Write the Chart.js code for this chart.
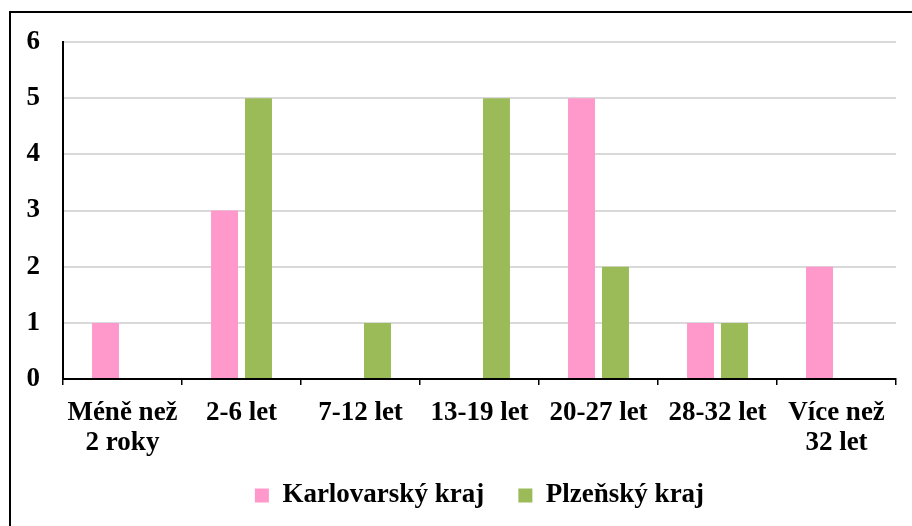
<!DOCTYPE html>
<html>
<head>
<meta charset="utf-8">
<script src="https://cdn.jsdelivr.net/npm/chart.js@4.4.1/dist/chart.umd.min.js"></script>
<style>
  html, body { margin: 0; padding: 0; background: #fff; overflow: hidden; }
  #frame { position: absolute; left: 9px; top: 11px; width: 903px; height: 515px;
           border-left: 2px solid #000; border-top: 2px solid #000; box-sizing: border-box; }
  #wrap { position: absolute; left: 0; top: 0; width: 901px; height: 513px; }
</style>
</head>
<body>
<div id="frame"><div id="wrap"><canvas id="c"></canvas></div></div>
<script>
const categories = [["Méně než", "2 roky"], "2-6 let", "7-12 let", "13-19 let", "20-27 let", "28-32 let", ["Více než", "32 let"]];
const karlovarsky = [1, 3, 0, 0, 5, 1, 2];
const plzensky = [0, 5, 1, 5, 2, 1, 0];
const seriesNames = ["Karlovarský kraj", "Plzeňský kraj"];
const yTicks = [0, 1, 2, 3, 4, 5, 6];

const FONT = "'Liberation Serif', 'Times New Roman', serif";

new Chart(document.getElementById('c'), {
  type: 'bar',
  data: {
    labels: categories,
    datasets: [
      { label: seriesNames[0], data: karlovarsky, backgroundColor: '#FF99CC',
        categoryPercentage: 0.571, barPercentage: 0.794 },
      { label: seriesNames[1], data: plzensky, backgroundColor: '#9BBB59',
        categoryPercentage: 0.571, barPercentage: 0.794 }
    ]
  },
  options: {
    responsive: true,
    maintainAspectRatio: false,
    animation: false,
    layout: { padding: { top: 29, right: 16, left: 0, bottom: 7 } },
    plugins: {
      tooltip: { enabled: false },
      legend: {
        position: 'bottom',
        fullSize: false,
        labels: {
          color: '#000',
          font: { family: FONT, size: 27, weight: 'bold' },
          boxWidth: 14, boxHeight: 14, padding: 14,
          generateLabels: (chart) => {
            const items = Chart.defaults.plugins.legend.labels.generateLabels(chart);
            items.forEach((it, i) => { if (i < items.length - 1) it.text = it.text + '   '; });
            return items;
          }
        }
      }
    },
    scales: {
      x: {
        afterFit: (s) => { s.height -= 3; },
        grid: { display: true, drawOnChartArea: false, drawTicks: true, tickLength: 6,
                color: '#000', lineWidth: 1.5, offset: true },
        border: { display: true, color: '#000', width: 2 },
        ticks: { color: '#000', maxRotation: 0, autoSkip: false, padding: 13,
                 font: { family: FONT, size: 27, weight: 'bold', lineHeight: 1.11 } }
      },
      y: {
        min: 0, max: 6,
        afterFit: (s) => { s.width = 52; s.paddingTop = 0; s.paddingBottom = 0; },
        afterBuildTicks: (s) => { s.ticks = yTicks.map(v => ({ value: v })); },
        grid: { color: '#d9d9d9', lineWidth: 2, drawTicks: false },
        border: { display: true, color: '#000', width: 2 },
        ticks: { color: '#000', padding: 23,
                 font: { family: FONT, size: 27, weight: 'bold' } }
      }
    }
  }
});
</script>
</body>
</html>
